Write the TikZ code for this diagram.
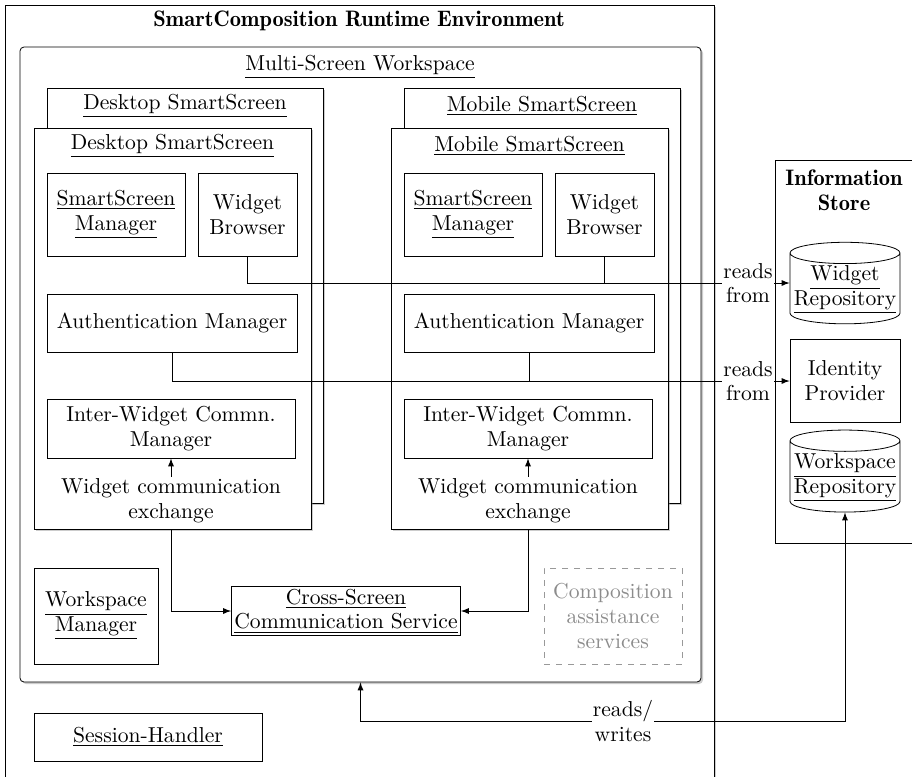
\documentclass[tikz,border=0pt]{standalone}
\usetikzlibrary{shapes.geometric,shadows}
\tikzset{
  box/.style={draw, align=center, inner sep=1pt},
  frame/.style={draw, fill=white, drop shadow={shadow xshift=1pt, shadow yshift=-1pt, opacity=0.4}},
  repo/.style={draw, cylinder, shape border rotate=90, aspect=0.2, align=center, inner sep=1pt},
  title/.style={align=center, inner sep=1pt},
  boldtitle/.style={title, font=\fontsize{11.2}{12.5}\fontseries{b}\selectfont},
  rlabel/.style={fill=white, align=center, inner sep=0.5pt},
  conn/.style={-latex},
}
\begin{document}
\begin{tikzpicture}[x=0.5pt, y=-0.5pt, font=\fontsize{10.8}{12.3}\selectfont]
      \useasboundingbox (0,0) rectangle (912,777);
      \clip (0,0) rectangle (912,777);
      % runtime and workspace
      \node[frame, minimum width=354.5pt, minimum height=400pt] (rte) at (359.5,405) {};
      \node[boldtitle] (rtetitle) at (359,21) {SmartComposition Runtime Environment};
      \node[frame, rounded corners=2pt, minimum width=340.5pt, minimum height=317.5pt] (msw) at (360.5,364.5) {};
      \node[title] (mswtitle) at (360,67) {\underline{Multi-Screen Workspace}};
      % information store
      \node[draw, minimum width=77.5pt, minimum height=191.5pt] (store) at (852.5,351.5) {};
      \node[boldtitle] (storetitle) at (844,190) {Information\\Store};
      \node[repo, minimum width=55pt, minimum height=37.5pt] (wrepo) at (845,290) {\underline{Widget}\\\underline{Repository}};
      \node[box, minimum width=55pt, minimum height=41.5pt] (idp) at (845,380.5) {Identity\\Provider};
      \node[repo, minimum width=55pt, minimum height=41pt] (wsrepo) at (845,478) {\underline{Workspace}\\\underline{Repository}};
      % desktop screen
      \node[frame, minimum width=138pt, minimum height=207.5pt] (dback) at (185,295.5) {};
      \node[title] (dbacktitle) at (185,106) {\underline{Desktop SmartScreen}};
      \node[frame, minimum width=138.5pt, minimum height=200.5pt] (dfront) at (172.5,328.5) {};
      \node[title] (dfronttitle) at (172.5,146) {\underline{Desktop SmartScreen}};
      \node[box, minimum width=69pt, minimum height=41.5pt] (dssm) at (116,214.5) {\underline{SmartScreen}\\\underline{Manager}};
      \node[box, minimum width=49.5pt, minimum height=41.5pt] (dwb) at (247.5,214.5) {Widget\\Browser};
      \node[box, minimum width=125pt, minimum height=29pt] (dam) at (172,323) {Authentication Manager};
      \node[box, minimum width=124pt, minimum height=29.5pt] (diwc) at (171,428.5) {Inter-Widget Commn.\\Manager};
      \node[title] (dwce) at (171,501) {Widget communication\\exchange};
      % mobile screen
      \node[frame, minimum width=138pt, minimum height=207.5pt] (mback) at (542,295.5) {};
      \node[title] (mbacktitle) at (542,106) {\underline{Mobile SmartScreen}};
      \node[frame, minimum width=138.5pt, minimum height=200.5pt] (mfront) at (529.5,328.5) {};
      \node[title] (mfronttitle) at (529.5,146) {\underline{Mobile SmartScreen}};
      \node[box, minimum width=69pt, minimum height=41.5pt] (mssm) at (473,214.5) {\underline{SmartScreen}\\\underline{Manager}};
      \node[box, minimum width=49.5pt, minimum height=41.5pt] (mwb) at (604.5,214.5) {Widget\\Browser};
      \node[box, minimum width=125pt, minimum height=29pt] (mam) at (529,323) {Authentication Manager};
      \node[box, minimum width=124pt, minimum height=29.5pt] (miwc) at (528,428.5) {Inter-Widget Commn.\\Manager};
      \node[title] (mwce) at (528,501) {Widget communication\\exchange};
      % lower services
      \node[box, minimum width=62pt, minimum height=48pt] (wsm) at (96,616) {\underline{Workspace}\\\underline{Manager}};
      \node[box, minimum width=114.5pt, minimum height=24.5pt] (cscs) at (346,611) {\underline{Cross-Screen}\\\underline{Communication Service}};
      \node[box, dashed, draw=black!40, text=black!45, minimum width=69pt, minimum height=48pt] (cas) at (613,616) {Composition\\assistance\\services};
      \node[box, minimum width=114pt, minimum height=24pt] (sh) at (148,737) {\underline{Session-Handler}};
      % edge labels
      \node[rlabel] (rf1) at (748,283) {reads\\from};
      \node[rlabel] (rf2) at (748,381) {reads\\from};
      \node[rlabel] (rw) at (623,721) {reads/\\writes};
      % connectors
      \draw (dwb.south) |- (rf1.west);
      \draw (mwb.south) |- (rf1.west);
      \draw[conn] (rf1.east) -- (rf1.east -| wrepo.west);
      \draw (dam.south) |- (rf2.west);
      \draw (mam.south) |- (rf2.west);
      \draw[conn] (rf2.east) -- (rf2.east -| idp.west);
      \draw[conn] (dwce.north) -- (diwc.south);
      \draw[conn] (mwce.north) -- (miwc.south);
      \draw[conn] (dwce |- dfront.south) |- (cscs.west);
      \draw[conn] (mwce |- mfront.south) |- (cscs.east);
      \draw[conn] (rw.west) -| (msw.south);
      \draw[conn] (rw.east) -| (wsrepo.south);
    \end{tikzpicture}
\end{document}
